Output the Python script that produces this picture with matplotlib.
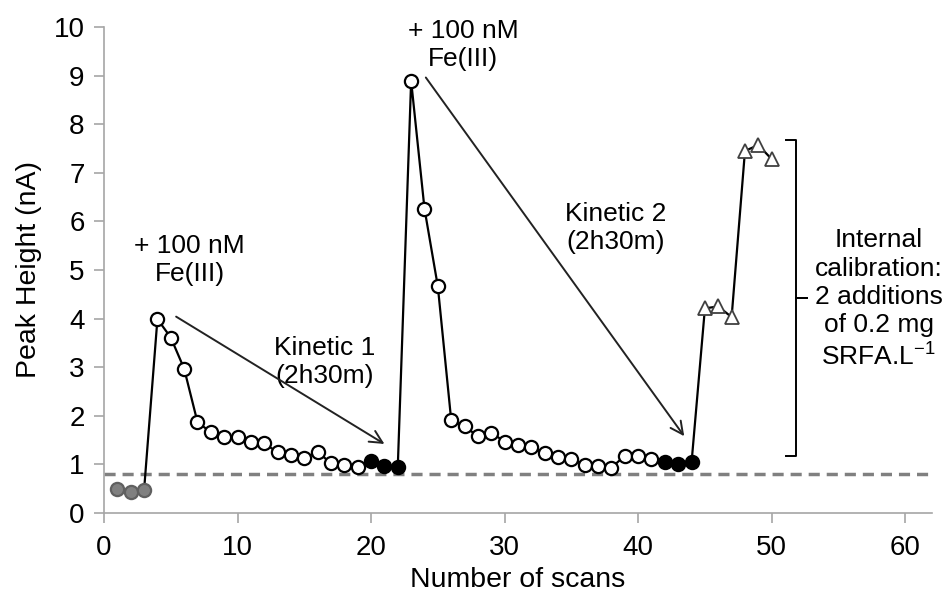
import matplotlib
matplotlib.use("Agg")
from matplotlib import pyplot as plt

plt.rcParams['font.family'] = ['Liberation Sans', 'DejaVu Sans']
plt.rcParams['mathtext.fontset'] = 'custom'
plt.rcParams['mathtext.rm'] = 'Liberation Sans'

# baseline scans (grey)
base_x = [1, 2, 3]
base_y = [0.49, 0.43, 0.47]

# kinetic 1 (open circles)
kin1_x = list(range(4, 20))
kin1_y = [3.99, 3.61, 2.97, 1.87, 1.66, 1.57, 1.56, 1.47, 1.43, 1.25, 1.19, 1.13, 1.26, 1.02, 0.99, 0.95]

# plateau 1 (black)
plat1_x = [20, 21, 22]
plat1_y = [1.06, 0.97, 0.95]

# kinetic 2 (open circles)
kin2_x = list(range(23, 42))
kin2_y = [8.89, 6.26, 4.66, 1.91, 1.78, 1.58, 1.65, 1.47, 1.40, 1.35, 1.23, 1.16, 1.11,
          0.99, 0.97, 0.93, 1.18, 1.18, 1.11]

# plateau 2 (black)
plat2_x = [42, 43, 44]
plat2_y = [1.04, 1.00, 1.04]

# internal calibration (triangles)
cal_x = [45, 46, 47, 48, 49, 50]
cal_y = [4.21, 4.25, 4.03, 7.45, 7.57, 7.28]

baseline_level = 0.8

fig = plt.figure(figsize=(9.49, 5.99), dpi=100)
ax = fig.add_axes([0.1096, 0.1436, 0.8724, 0.8114])

all_x = base_x + kin1_x + plat1_x + kin2_x + plat2_x + cal_x
all_y = base_y + kin1_y + plat1_y + kin2_y + plat2_y + cal_y
ax.plot(all_x, all_y, color='black', lw=1.6, zorder=2)

ax.axhline(baseline_level, color='#808080', lw=2.5, dashes=(3.2, 2.0), zorder=1)

mk = dict(ms=9.5, mew=1.6, ls='none', zorder=3)
ax.plot(base_x, base_y, 'o', mfc='#808080', mec='#606060', **mk)
ax.plot(kin1_x, kin1_y, 'o', mfc='white', mec='black', **mk)
ax.plot(plat1_x, plat1_y, 'o', mfc='black', mec='black', **mk)
ax.plot(kin2_x, kin2_y, 'o', mfc='white', mec='black', **mk)
ax.plot(plat2_x, plat2_y, 'o', mfc='black', mec='black', **mk)
ax.plot(cal_x, cal_y, '^', mfc='white', mec='#404040', ms=10, mew=1.3, ls='none', zorder=3)

ax.set_xlim(0, 62)
ax.set_ylim(0, 10)
ax.set_xticks(range(0, 61, 10))
ax.set_yticks(range(0, 11))

for s in ['top', 'right']:
    ax.spines[s].set_visible(False)
for s in ['left', 'bottom']:
    ax.spines[s].set_color('#a6a6a6')
    ax.spines[s].set_linewidth(1.2)
ax.tick_params(colors='#a6a6a6', labelcolor='black', labelsize=20, length=7, width=1.2, direction='out')
ax.tick_params(axis='x', pad=9)
ax.tick_params(axis='y', pad=7)

ax.set_xlabel('Number of scans', fontsize=20.5, labelpad=4)
ax.set_ylabel('Peak Height (nA)', fontsize=20.5, labelpad=8)

txt = dict(fontsize=19, ha='center', va='center', linespacing=1.22)
ax.text(6.4, 5.2, '+ 100 nM\nFe(III)', **txt)
ax.text(26.9, 9.63, '+ 100 nM\nFe(III)', **txt)
ax.text(16.5, 3.1, 'Kinetic 1\n(2h30m)', **txt)
ax.text(38.3, 5.86, 'Kinetic 2\n(2h30m)', **txt)
ax.text(58.0, 4.4, 'Internal\ncalibration:\n2 additions\nof 0.2 mg\nSRFA.L$^{\\mathregular{-1}}$', **txt)

arrow = dict(arrowstyle='->,head_length=0.9,head_width=0.45', color='#222222', lw=1.4,
             shrinkA=0, shrinkB=0)
ax.annotate('', xy=(21.0, 1.42), xytext=(5.4, 4.04), arrowprops=arrow)
ax.annotate('', xy=(43.45, 1.58), xytext=(24.1, 8.96), arrowprops=arrow)

# bracket for calibration
bx, top, bot, mid = 51.8, 7.67, 1.17, 4.42
ax.plot([bx - 0.75, bx, bx, bx + 0.85, bx, bx, bx - 0.75],
        [top, top, mid, mid, mid, bot, bot], color='black', lw=1.4, clip_on=False)

fig.savefig('out.png', dpi=100)
